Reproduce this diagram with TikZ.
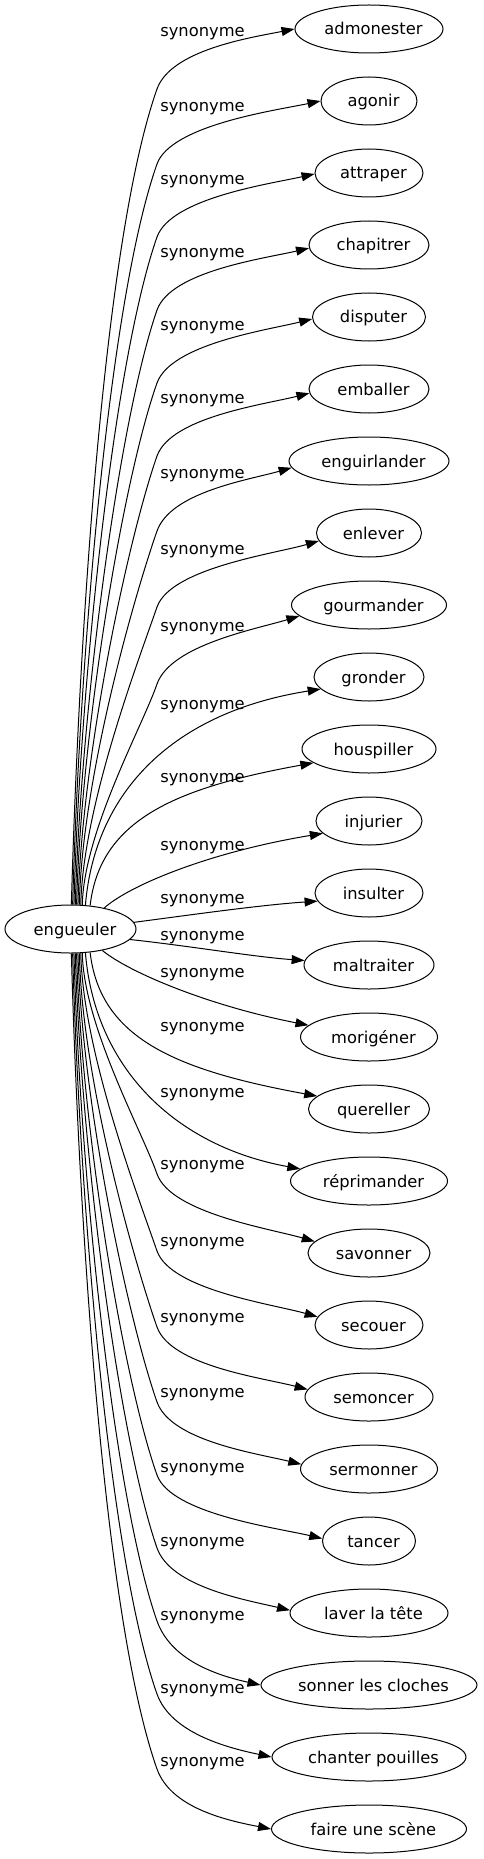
\documentclass[tikz,border=0pt]{standalone}
\usepackage{fontspec}
\setmainfont{DejaVu Sans}
\usetikzlibrary{shapes.geometric,arrows.meta}
\tikzset{
  ell/.style={draw, ellipse, line width=1pt, inner sep=0pt, minimum height=48pt},
  ntext/.style={font=\fontsize{16.3pt}{19pt}\selectfont, inner sep=0pt, text height=15pt, text depth=3pt, xshift=4.5pt},
  lbl/.style={font=\fontsize{16.3pt}{19pt}\selectfont, inner sep=0pt, anchor=base},
  syn/.style={-{Triangle[length=13pt,width=9pt]}, line width=1pt},
}
\newcommand{\mytgt}[4]{\node[ell, minimum width=#3pt, label={[ntext, name=#1t]center:#4}] (#1) at (369,#2) {};}
\begin{document}
\begin{tikzpicture}[x=1pt,y=-1pt]
\useasboundingbox (0,0) rectangle (483,1859);
% source
\node[ell, minimum width=131pt, label={[ntext, name=et]center:engueuler}] (e) at (70.5,929) {};
% targets
\mytgt{n0}{29}{148}{admonester}
\mytgt{n1}{101}{96}{agonir}
\mytgt{n2}{173}{108}{attraper}
\mytgt{n3}{245}{120}{chapitrer}
\mytgt{n4}{317}{113}{disputer}
\mytgt{n5}{389}{120}{emballer}
\mytgt{n6}{461}{160}{enguirlander}
\mytgt{n7}{533}{105}{enlever}
\mytgt{n8}{605}{155}{gourmander}
\mytgt{n9}{677}{110}{gronder}
\mytgt{n10}{749}{134}{houspiller}
\mytgt{n11}{821}{106}{injurier}
\mytgt{n12}{893}{108}{insulter}
\mytgt{n13}{965}{130}{maltraiter}
\mytgt{n14}{1037}{137}{morigéner}
\mytgt{n15}{1109}{121}{quereller}
\mytgt{n16}{1181}{157}{réprimander}
\mytgt{n17}{1253}{122}{savonner}
\mytgt{n18}{1325}{108}{secouer}
\mytgt{n19}{1397}{128}{semoncer}
\mytgt{n20}{1469}{137}{sermonner}
\mytgt{n21}{1541}{93}{tancer}
\mytgt{n22}{1613}{158}{laver la tête}
\mytgt{n23}{1685}{216}{sonner les cloches}
\mytgt{n24}{1757}{194}{chanter pouilles}
\mytgt{n25}{1829}{195}{faire une scène}
% edge labels
\node[lbl] (l0) at (202.5,36.5) {synonyme};
\node[lbl] (l1) at (202.5,111.5) {synonyme};
\node[lbl] (l2) at (202.5,184.5) {synonyme};
\node[lbl] (l3) at (202.5,257.5) {synonyme};
\node[lbl] (l4) at (202.5,330.5) {synonyme};
\node[lbl] (l5) at (202.5,403.5) {synonyme};
\node[lbl] (l6) at (202.5,478.5) {synonyme};
\node[lbl] (l7) at (202.5,554.5) {synonyme};
\node[lbl] (l8) at (202.5,631.5) {synonyme};
\node[lbl] (l9) at (202.5,709.5) {synonyme};
\node[lbl] (l10) at (202.5,782.5) {synonyme};
\node[lbl] (l11) at (202.5,850.5) {synonyme};
\node[lbl] (l12) at (202.5,903.5) {synonyme};
\node[lbl] (l13) at (202.5,940.5) {synonyme};
\node[lbl] (l14) at (202.5,977.5) {synonyme};
\node[lbl] (l15) at (202.5,1031.5) {synonyme};
\node[lbl] (l16) at (202.5,1097.5) {synonyme};
\node[lbl] (l17) at (202.5,1169.5) {synonyme};
\node[lbl] (l18) at (202.5,1246.5) {synonyme};
\node[lbl] (l19) at (202.5,1322.5) {synonyme};
\node[lbl] (l20) at (202.5,1397.5) {synonyme};
\node[lbl] (l21) at (202.5,1472.5) {synonyme};
\node[lbl] (l22) at (202.5,1546.5) {synonyme};
\node[lbl] (l23) at (202.5,1620.5) {synonyme};
\node[lbl] (l24) at (202.5,1693.5) {synonyme};
\node[lbl] (l25) at (202.5,1766.5) {synonyme};
% upper edges
\draw[syn] (e.88) .. controls (79,633) and (104,239) .. (157,89) .. controls (171,50) and (250,37.7) .. (n0.180);
\draw[syn] (e.85) .. controls (79.5,658) and (109,300) .. (157,164) .. controls (171,125) and (276,110.3) .. (n1.180);
\draw[syn] (e.82) .. controls (80,682) and (114,360) .. (157,237) .. controls (171,198) and (270,183.9) .. (n2.181);
\draw[syn] (e.79) .. controls (81,707) and (119,420) .. (157,310) .. controls (171,271) and (264.5,258.5) .. (n3.183);
\draw[syn] (e.76) .. controls (81.2,731) and (123,479) .. (157,383) .. controls (171,344) and (267.5,330) .. (n4.182);
\draw[syn] (e.73) .. controls (82,755) and (128,539) .. (157,456) .. controls (171,417) and (264,404.6) .. (n5.184);
\draw[syn] (e.70) .. controls (82,780) and (133,600) .. (157,531) .. controls (171,492) and (247.5,480.2) .. (n6.185);
\draw[syn] (e.67) .. controls (83,806) and (138,662) .. (157,607) .. controls (171,568) and (274.5,553.8) .. (n7.189);
\draw[syn] (e.64) .. controls (84,831) and (143,725) .. (157,684) .. controls (171,645) and (255,629.4) .. (n8.189);
\draw[syn] (e.58) .. controls (95,790) and (175,712) .. (n9.194);
\draw[syn] (e.50) .. controls (100,820) and (175,788) .. (n10.194);
\draw[syn] (e.32) .. controls (130,885) and (210,852) .. (n11.195);
\draw[syn] (e.6) .. controls (190,915) and (260,905) .. (n12.189);
% lower edges
\draw[syn] (e.-10) .. controls (190,946) and (255,957) .. (n13.176);
\draw[syn] (e.-34) .. controls (130,973) and (210,1006) .. (n14.169);
\draw[syn] (e.-50) .. controls (100,1038) and (175,1070) .. (n15.166);
\draw[syn] (e.-58) .. controls (95,1068) and (175,1146) .. (n16.170);
\draw[syn] (e.-64) .. controls (84,1027) and (143,1133) .. (157,1174) .. controls (171,1213) and (269.8,1228.6) .. (n17.168.5);
\draw[syn] (e.-67) .. controls (83,1052) and (138,1196) .. (157,1251) .. controls (171,1290) and (273.1,1304.2) .. (n18.171);
\draw[syn] (e.-70) .. controls (82,1078) and (133,1258) .. (157,1327) .. controls (171,1366) and (262.8,1377.8) .. (n19.173.5);
\draw[syn] (e.-73) .. controls (82,1103) and (128,1319) .. (157,1402) .. controls (171,1441) and (256.4,1453.3) .. (n20.176.6);
\draw[syn] (e.-76) .. controls (81.2,1127) and (123,1379) .. (157,1475) .. controls (171,1514) and (277.5,1527.9) .. (n21.177.5);
\draw[syn] (e.-79) .. controls (81,1151) and (119,1438) .. (157,1548) .. controls (171,1587) and (245.4,1599.8) .. (n22.178);
\draw[syn] (e.-82) .. controls (80,1176) and (114,1498) .. (157,1621) .. controls (171,1660) and (216,1675.1) .. (n23.180);
\draw[syn] (e.-85) .. controls (79.5,1200) and (109,1558) .. (157,1694) .. controls (171,1733) and (227,1747.7) .. (n24.180);
\draw[syn] (e.-88) .. controls (79,1225) and (104,1619) .. (157,1769) .. controls (171,1808) and (226.5,1820.3) .. (n25.180);
\end{tikzpicture}
\end{document}
